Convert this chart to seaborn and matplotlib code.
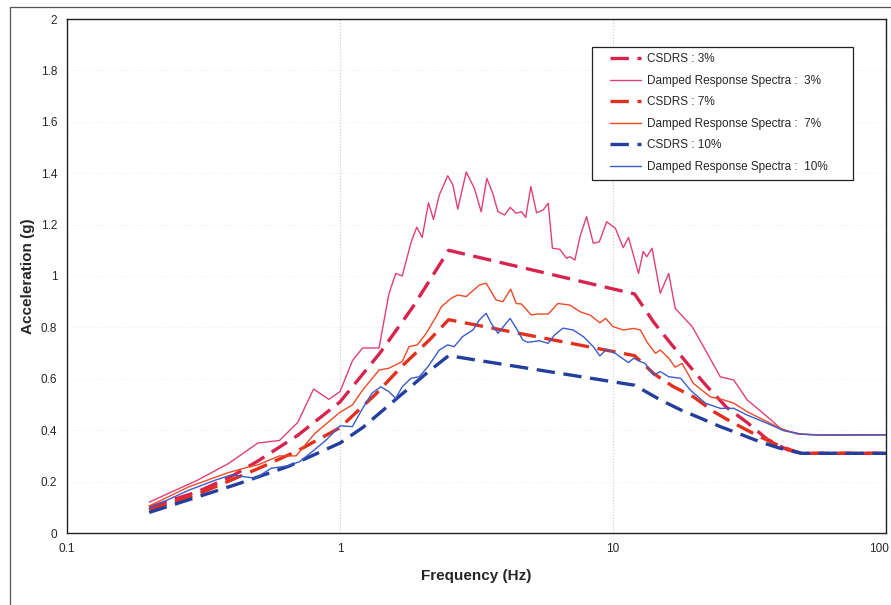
import matplotlib
matplotlib.use('Agg')
import matplotlib.pyplot as plt
import matplotlib.transforms as mtransforms
import seaborn as sns
from matplotlib.legend_handler import HandlerLine2D
from matplotlib.lines import Line2D
from matplotlib.ticker import FixedLocator, FixedFormatter

sns.set_style('white')
plt.rcParams['font.family'] = ['Liberation Sans', 'DejaVu Sans']

# CSDRS design spectra (frequency Hz, acceleration g)
csdrs3_f = [0.2, 0.3, 0.4, 0.5, 0.7, 1.0, 1.4, 1.85, 2.5, 12, 14.1, 16.2, 18.7, 22.1, 26.0, 31.0, 36.7, 43.3, 49, 100]
csdrs3_a = [0.10, 0.16, 0.22, 0.28, 0.38, 0.51, 0.70, 0.88, 1.10, 0.93, 0.82, 0.74, 0.66, 0.57, 0.49, 0.43, 0.365, 0.325, 0.31, 0.31]

csdrs7_f = [0.2, 0.3, 0.5, 0.7, 1.0, 1.35, 1.69, 2.12, 2.5, 12, 14.1, 16.6, 19.7, 23.4, 27.7, 32.6, 38.8, 44.8, 49, 100]
csdrs7_a = [0.09, 0.15, 0.25, 0.32, 0.41, 0.54, 0.65, 0.75, 0.83, 0.69, 0.62, 0.57, 0.53, 0.472, 0.427, 0.388, 0.349, 0.323, 0.31, 0.31]

csdrs10_f = [0.2, 0.3, 0.42, 0.65, 1.0, 1.21, 1.6, 2.12, 2.5, 12, 14.9, 17.7, 21.0, 24.7, 29.2, 34.5, 40.8, 49, 100]
csdrs10_a = [0.08, 0.14, 0.19, 0.26, 0.35, 0.41, 0.52, 0.63, 0.69, 0.575, 0.518, 0.479, 0.446, 0.414, 0.385, 0.355, 0.33, 0.31, 0.31]

# damped response spectra
drs3_f = [0.2, 0.3, 0.39, 0.5, 0.6, 0.7, 0.8, 0.91, 1.0, 1.11, 1.21, 1.39, 1.51, 1.6, 1.69,
          1.82, 1.91, 2.0, 2.11, 2.2, 2.31, 2.48, 2.59, 2.7, 2.9, 3.11, 3.29, 3.45, 3.63, 3.79,
          4.01, 4.2, 4.42, 4.62, 4.79, 5.0, 5.25, 5.55, 5.79, 6.0, 6.38, 6.76, 6.95, 7.25, 7.57,
          8.0, 8.47, 8.91, 9.48, 10.2, 10.9, 11.4, 12.4, 12.9, 13.3, 13.9, 14.9, 16.0, 16.9,
          19.5, 21.8, 24.7, 27.7, 31.0, 36.7, 41.1, 47.3, 57.6, 100]
drs3_a = [0.12, 0.205, 0.27, 0.35, 0.36, 0.43, 0.56, 0.52, 0.55, 0.67, 0.72, 0.72, 0.93, 1.01, 1.0,
          1.13, 1.19, 1.15, 1.285, 1.22, 1.315, 1.39, 1.355, 1.26, 1.405, 1.34, 1.25, 1.38, 1.32, 1.25,
          1.237, 1.267, 1.244, 1.25, 1.228, 1.348, 1.246, 1.257, 1.283, 1.108, 1.104, 1.069, 1.075, 1.062, 1.153,
          1.231, 1.127, 1.133, 1.211, 1.186, 1.11, 1.15, 1.01, 1.095, 1.075, 1.108, 0.933, 1.01, 0.874,
          0.803, 0.712, 0.608, 0.595, 0.518, 0.453, 0.407, 0.385, 0.381, 0.382]

drs7_f = [0.2, 0.28, 0.39, 0.46, 0.5, 0.6, 0.69, 0.81, 1.0, 1.11, 1.21, 1.39, 1.51, 1.69, 1.79,
          1.92, 2.07, 2.25, 2.35, 2.55, 2.7, 2.9, 3.24, 3.43, 3.73, 3.95, 4.22, 4.42, 4.62, 5.02,
          5.25, 5.79, 6.28, 6.95, 7.57, 8.24, 8.95, 9.4, 10.0, 10.9, 11.9, 12.6, 13.3, 14.3, 14.9,
          16.0, 16.9, 17.9, 19.7, 22.7, 25.4, 27.7, 31.0, 36.7, 42.2, 48.7, 57.6, 100]
drs7_a = [0.105, 0.18, 0.235, 0.256, 0.265, 0.30, 0.30, 0.388, 0.47, 0.498, 0.556, 0.634, 0.641, 0.667, 0.725,
          0.732, 0.777, 0.842, 0.88, 0.913, 0.926, 0.92, 0.965, 0.972, 0.907, 0.90, 0.949, 0.893, 0.891, 0.848,
          0.852, 0.852, 0.893, 0.887, 0.861, 0.848, 0.818, 0.835, 0.803, 0.79, 0.796, 0.79, 0.744, 0.699, 0.712,
          0.68, 0.645, 0.66, 0.582, 0.53, 0.518, 0.505, 0.472, 0.433, 0.40, 0.385, 0.381, 0.382]

drs10_f = [0.2, 0.28, 0.35, 0.4, 0.49, 0.56, 0.64, 0.71, 0.79, 0.89, 1.0, 1.11, 1.21, 1.31, 1.41,
           1.51, 1.6, 1.69, 1.82, 1.95, 2.1, 2.31, 2.48, 2.62, 2.81, 3.07, 3.24, 3.43, 3.58, 3.79,
           4.01, 4.2, 4.42, 4.67, 4.87, 5.38, 5.79, 6.1, 6.56, 7.14, 7.79, 8.47, 8.95, 9.48, 10.2,
           10.6, 11.4, 11.9, 12.6, 13.1, 14.1, 14.9, 16.0, 17.7, 19.2, 21.8, 24.7, 27.7, 31.0,
           36.7, 42.2, 48.7, 57.6, 100]
drs10_a = [0.096, 0.167, 0.206, 0.226, 0.213, 0.252, 0.261, 0.277, 0.316, 0.362, 0.417, 0.414, 0.485, 0.544, 0.569,
           0.55, 0.524, 0.569, 0.602, 0.608, 0.647, 0.712, 0.732, 0.725, 0.764, 0.79, 0.829, 0.855, 0.816, 0.777,
           0.809, 0.835, 0.797, 0.751, 0.742, 0.748, 0.738, 0.77, 0.797, 0.79, 0.764, 0.725, 0.689, 0.715, 0.699,
           0.686, 0.663, 0.68, 0.667, 0.66, 0.615, 0.628, 0.608, 0.602, 0.556, 0.505, 0.485, 0.485, 0.459,
           0.427, 0.398, 0.385, 0.381, 0.382]

x_ticks = [0.1, 1, 10, 100]
x_tick_labels = ['0.1', '1', '10', '100']
y_ticks = [0, 0.2, 0.4, 0.6, 0.8, 1.0, 1.2, 1.4, 1.6, 1.8, 2.0]
y_tick_labels = ['0', '0.2', '0.4', '0.6', '0.8', '1', '1.2', '1.4', '1.6', '1.8', '2']

series = [
    ('CSDRS : 3%', csdrs3_f, csdrs3_a, '#d9234f', 2.4, True),
    ('Damped Response Spectra :  3%', drs3_f, drs3_a, '#e0407a', 1.0, False),
    ('CSDRS : 7%', csdrs7_f, csdrs7_a, '#e2301f', 2.4, True),
    ('Damped Response Spectra :  7%', drs7_f, drs7_a, '#ec4a26', 1.0, False),
    ('CSDRS : 10%', csdrs10_f, csdrs10_a, '#233e9c', 2.4, True),
    ('Damped Response Spectra :  10%', drs10_f, drs10_a, '#3a5ccc', 1.0, False),
]

fig = plt.figure(figsize=(8.91, 6.05), dpi=100)
ax = fig.add_axes([67 / 891, 1 - 533 / 605, 819 / 891, 514 / 605])

for label, xs, ys, color, lw, dashed in series:
    sns.lineplot(x=xs, y=ys, ax=ax, color=color, linewidth=lw,
                 estimator=None, sort=False, label=label)
    if dashed:
        ax.lines[-1].set_dashes((5.5, 2.6))

ax.set_xscale('log')
ax.set_xlim(0.1, 100)
ax.set_ylim(0, 2)
ax.xaxis.set_major_locator(FixedLocator(x_ticks))
ax.xaxis.set_major_formatter(FixedFormatter(x_tick_labels))
ax.xaxis.set_minor_locator(FixedLocator([]))
ax.yaxis.set_major_locator(FixedLocator(y_ticks))
ax.yaxis.set_major_formatter(FixedFormatter(y_tick_labels))
ax.tick_params(axis='both', which='major', direction='out', length=4,
               width=0.8, labelsize=8.5, color='#333333', pad=3)
ax.tick_params(axis='x', length=0, pad=7)

# last x label sits at the right edge of the figure
fig.canvas.draw()
last = ax.get_xticklabels()[-1]
last.set_horizontalalignment('right')
last.set_transform(last.get_transform() +
                   mtransforms.ScaledTranslation(3 / 100, 0, fig.dpi_scale_trans))

ax.grid(axis='x', which='major', color='#c8c8c8', linestyle=':', linewidth=0.8)
ax.grid(axis='y', which='major', color='#ececec', linestyle=':', linewidth=0.6)
for side in ['left', 'bottom', 'top', 'right']:
    ax.spines[side].set_visible(True)
    ax.spines[side].set_color('#222222')
    ax.spines[side].set_linewidth(1.0)

ax.set_xlabel('Frequency (Hz)', fontsize=11, fontweight='bold', labelpad=10)
ax.set_ylabel('Acceleration (g)', fontsize=11, fontweight='bold', labelpad=4)

leg_left = (592 - 67) / 819
leg_width = (853 - 592) / 819
leg = ax.legend(loc='upper left', bbox_to_anchor=(leg_left, 0.946 - 0.3, leg_width, 0.3),
                mode='expand', borderaxespad=0,
                fontsize=8.5, handlelength=3.6, handletextpad=0.5, labelspacing=0.81,
                borderpad=0.55, fancybox=False, framealpha=1, edgecolor='#222222',
                handler_map={Line2D: HandlerLine2D(xpad=0.95)})
leg.get_frame().set_linewidth(0.9)

# outer chart border
fig.add_artist(Line2D([9.5 / 891, 9.5 / 891], [0, 1 - 6.5 / 605], transform=fig.transFigure,
                      color='#555555', linewidth=0.9))
fig.add_artist(Line2D([9.5 / 891, 1], [1 - 6.5 / 605, 1 - 6.5 / 605], transform=fig.transFigure,
                      color='#555555', linewidth=0.9))

fig.savefig('out.png', dpi=100)
